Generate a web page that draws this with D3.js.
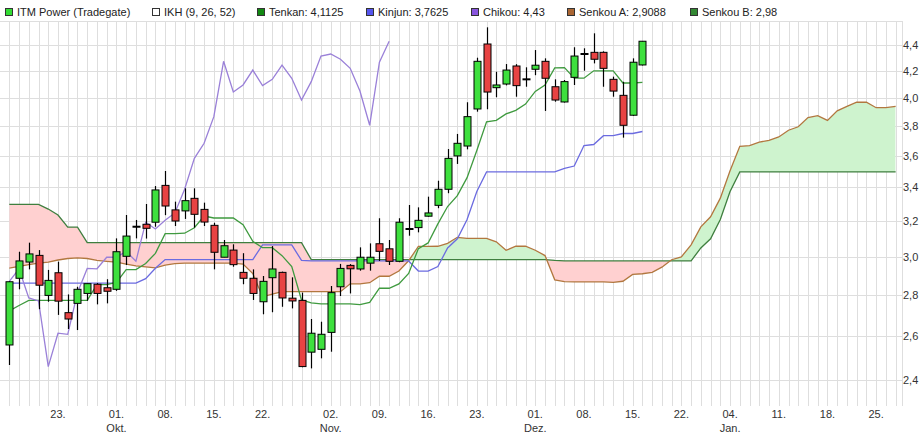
<!DOCTYPE html>
<html><head><meta charset="utf-8">
<script src="https://cdn.jsdelivr.net/npm/d3@7"></script>
<style>body{margin:0;background:#fff}svg{display:block}text{font-family:"Liberation Sans",Arial,sans-serif}</style>
</head><body><svg id="c" width="921" height="434"></svg>
<script>
// ---- data ----
const opens  = [2.557,2.885,2.971,3.007,2.797,2.914,2.711,2.757,2.807,2.854,2.836,2.828,3.002,3.167,3.181,3.193,3.413,3.265,3.259,3.334,3.268,3.175,2.997,3.036,2.916,2.885,2.765,2.888,2.916,2.783,2.772,2.524,2.537,2.616,2.841,2.953,2.934,2.965,3.071,3.043,2.975,3.154,3.162,3.228,3.292,3.389,3.600,3.665,3.919,4.408,4.073,4.100,4.236,4.135,4.211,4.272,4.080,3.969,4.150,4.329,4.342,4.342,4.135,4.017,3.875,4.244];
const highs  = [2.870,3.027,3.077,3.036,2.929,2.973,2.802,2.841,2.857,2.860,2.880,3.101,3.235,3.206,3.300,3.409,3.503,3.314,3.395,3.395,3.308,3.190,3.092,3.068,3.019,2.932,2.897,3.058,2.920,2.890,2.811,2.680,2.667,2.845,2.961,2.960,3.051,3.073,3.216,3.092,3.216,3.294,3.280,3.344,3.442,3.645,3.746,3.967,4.300,4.543,4.192,4.251,4.250,4.226,4.360,4.295,4.135,4.130,4.382,4.374,4.494,4.350,4.155,4.117,4.295,4.430];
const lows   = [2.466,2.828,2.932,2.728,2.765,2.700,2.632,2.627,2.770,2.752,2.757,2.820,2.955,3.101,3.100,3.167,3.234,3.171,3.212,3.162,3.171,2.932,2.997,2.946,2.854,2.774,2.703,2.713,2.740,2.732,2.456,2.451,2.496,2.526,2.794,2.807,2.925,2.925,2.977,2.955,2.970,3.116,3.135,3.225,3.275,3.365,3.548,3.643,3.900,3.917,4.003,4.090,4.007,4.080,4.166,3.905,3.971,3.965,4.093,4.200,4.256,4.080,4.007,3.721,3.870,4.240];
const closes = [2.867,2.977,3.015,2.849,2.874,2.768,2.680,2.828,2.857,2.807,2.818,3.027,3.114,3.167,3.158,3.385,3.288,3.200,3.320,3.239,3.194,3.024,3.060,2.957,2.885,2.807,2.869,2.934,2.784,2.769,2.459,2.612,2.607,2.811,2.937,2.935,2.997,2.997,3.029,2.975,3.193,3.154,3.204,3.247,3.389,3.584,3.683,3.865,4.272,4.041,4.093,4.205,4.088,4.135,4.242,4.143,3.983,4.118,4.313,4.329,4.288,4.218,4.048,3.805,4.265,4.430];

const tenkan = [2.72,2.7465,2.7715,2.7715,2.7715,2.7715,2.7715,2.7715,2.7715,2.852,2.852,2.864,2.931,2.931,2.9635,3.018,3.1275,3.1275,3.13,3.1615,3.229,3.2175,3.2175,3.2175,3.1785,3.0845,3.049,3.049,3.0055,2.9465,2.774,2.7595,2.7545,2.7545,2.7545,2.7545,2.751,2.762,2.8335,2.8335,2.856,2.91,3.044,3.0755,3.1835,3.285,3.3505,3.461,3.635,3.8295,3.839,3.884,3.909,3.954,4.0455,4.093,4.2215,4.224,4.1435,4.1435,4.1995,4.1995,4.1995,4.1075,4.1075,4.1125];
const kijun  = [2.86,2.86,2.86,2.86,2.86,2.86,2.86,2.86,2.86,2.86,2.86,2.86,2.86,2.86,2.883,2.9375,2.9845,2.9845,2.9845,2.9845,2.9845,2.9845,2.9845,2.9845,2.9845,2.9845,3.065,3.065,3.065,3.065,2.9795,2.977,2.977,2.977,2.977,2.977,2.977,2.977,2.977,2.977,2.977,2.977,2.923,2.923,2.9465,3.048,3.0985,3.209,3.3755,3.497,3.497,3.497,3.497,3.497,3.497,3.497,3.497,3.5195,3.5345,3.6685,3.675,3.734,3.734,3.749,3.749,3.7625];
const chikou = [2.869,2.934,2.784,2.769,2.459,2.612,2.607,2.811,2.937,2.935,2.997,2.997,3.029,2.975,3.193,3.154,3.204,3.247,3.389,3.584,3.683,3.865,4.272,4.041,4.093,4.205,4.088,4.135,4.242,4.143,3.983,4.118,4.313,4.329,4.288,4.218,4.048,3.805,4.265,4.430];
const senkouA = [2.939,2.948,2.957,2.965,2.971,2.982,2.990,2.993,2.990,2.980,2.975,2.971,2.960,2.950,2.945,2.940,2.955,2.962,2.965,2.965,2.965,2.965,2.965,2.965,2.960,2.910,2.79,2.803,2.816,2.816,2.816,2.816,2.816,2.816,2.816,2.856,2.856,2.862,2.8955,2.8955,2.923,2.978,3.056,3.056,3.057,3.073,3.107,3.101,3.101,3.101,3.0815,3.0345,3.057,3.057,3.035,3.006,2.877,2.868,2.866,2.866,2.866,2.866,2.864,2.8695,2.905,2.9088,2.9165,2.9435,2.9835,2.999,3.065,3.1665,3.2245,3.335,3.505,3.663,3.668,3.6905,3.703,3.7255,3.771,3.795,3.859,3.872,3.839,3.906,3.937,3.967,3.967,3.928,3.928,3.9375];
const senkouB = [3.298,3.298,3.298,3.298,3.27,3.235,3.165,3.165,3.077,3.077,3.077,3.077,3.077,3.077,3.077,3.077,3.077,3.077,3.077,3.077,3.077,3.077,3.077,3.077,3.077,3.077,3.077,3.077,3.077,3.077,3.077,2.9845,2.9845,2.9845,2.9845,2.9845,2.9845,2.9845,2.9845,2.9845,2.9845,2.9845,2.9845,2.9845,2.9845,2.9845,2.9845,2.9845,2.9845,2.9845,2.9845,2.9845,2.9845,2.9845,2.9845,2.9845,2.9795,2.977,2.977,2.977,2.977,2.977,2.977,2.977,2.977,2.977,2.977,2.977,2.977,2.977,2.977,3.048,3.0985,3.209,3.3755,3.497,3.497,3.497,3.497,3.497,3.497,3.497,3.497,3.497,3.497,3.497,3.497,3.497,3.497,3.497,3.497,3.497];

const yTickValues = [2.4,2.6,2.8,3.0,3.2,3.4,3.6,3.8,4.0,4.2,4.4];
const yTickLabels = ["2,4","2,6","2,8","3,0","3,2","3,4","3,6","3,8","4,0","4,2","4,4"];
const xTickIndex = [5,11,16,21,26,33,38,43,48,54,59,64,69,74,79,84,89];
const xTickDay   = ["23.","01.","08.","15.","22.","02.","09.","16.","23.","01.","08.","15.","22.","04.","11.","18.","25."];
const xTickMonth = ["","Okt.","","","","Nov.","","","","Dez.","","","","Jan.","","",""];
const legendLabels = ["ITM Power (Tradegate)","IKH (9, 26, 52)","Tenkan: 4,1125","Kinjun: 3,7625","Chikou: 4,43","Senkou A: 2,9088","Senkou B: 2,98"];

// ---- styling ----
const C = {up:"#3ee03e", down:"#e84343", tenkan:"#3f9a3f", kijun:"#6b6be0", chikou:"#9a80d8",
           sa:"#b2773f", sb:"#3f7f3f", pink:"#ffd0d0", green:"#cef3ce", grid:"#dedede"};
const legendColors = ["#33dd33","#ffffff","#118811","#5555ee","#8855dd","#aa6633","#338833"];
const legendX = [5,152,257,366,471,567,690];

const svg = d3.select("#c");
const W = 921, H = 434;
const plotL = 0, plotR = 902, plotT = 21, plotB = 406;
const nTotal = senkouA.length; // 92
const x = d3.scaleLinear().domain([0, nTotal-1]).range([9.3, 9.3 + (nTotal-1)*9.74]);
const y = d3.scaleLog().domain([2.4, 4.4]).range([380, 45]);
const px = v => Math.round(v) + 0.5;

// grid
const g = svg.append("g");
g.selectAll("line.v").data(d3.range(0, nTotal)).join("line")
  .attr("x1", i => px(x(i))).attr("x2", i => px(x(i)))
  .attr("y1", plotT).attr("y2", plotB).attr("stroke", C.grid).attr("stroke-width", 1);
g.selectAll("line.h").data(yTickValues).join("line")
  .attr("x1", plotL).attr("x2", plotR)
  .attr("y1", d => px(y(d))).attr("y2", d => px(y(d))).attr("stroke", C.grid);
g.append("line").attr("x1", plotL).attr("x2", plotR).attr("y1", plotT+0.5).attr("y2", plotT+0.5).attr("stroke", C.grid);
g.append("line").attr("x1", plotR+0.5).attr("x2", plotR+0.5).attr("y1", plotT).attr("y2", plotB).attr("stroke", C.grid);

// cloud
const idx = d3.range(nTotal);
const defs = svg.append("defs");
defs.append("clipPath").attr("id","abvA").append("path")
  .attr("d", d3.area().x(i => x(i)).y0(0).y1(i => y(senkouA[i]))(idx));
defs.append("clipPath").attr("id","belA").append("path")
  .attr("d", d3.area().x(i => x(i)).y0(H).y1(i => y(senkouA[i]))(idx));
const between = d3.area().x(i => x(i)).y0(i => y(senkouA[i])).y1(i => y(senkouB[i]));
svg.append("path").attr("d", between(idx)).attr("fill", C.pink).attr("clip-path","url(#abvA)");
svg.append("path").attr("d", between(idx)).attr("fill", C.green).attr("clip-path","url(#belA)");

const line = arr => d3.line().x((d,i) => x(i)).y(d => y(d))(arr);
svg.append("path").attr("d", line(senkouB)).attr("fill","none").attr("stroke", C.sb).attr("stroke-width",1.3);
svg.append("path").attr("d", line(senkouA)).attr("fill","none").attr("stroke", C.sa).attr("stroke-width",1.3);
svg.append("path").attr("d", line(kijun)).attr("fill","none").attr("stroke", C.kijun).attr("stroke-width",1.3);
svg.append("path").attr("d", line(tenkan)).attr("fill","none").attr("stroke", C.tenkan).attr("stroke-width",1.3);
svg.append("path").attr("d", line(chikou)).attr("fill","none").attr("stroke", C.chikou).attr("stroke-width",1.3);

// candles
const cg = svg.append("g");
closes.forEach((c, i) => {
  const o = opens[i], cx = Math.round(x(i));
  cg.append("line").attr("x1", cx+0.5).attr("x2", cx+0.5)
    .attr("y1", y(highs[i])).attr("y2", y(lows[i])).attr("stroke","#000").attr("stroke-width",1.2);
  const top = y(Math.max(o,c)), bot = y(Math.min(o,c));
  if (Math.abs(c - o) < 1e-9) {
    cg.append("line").attr("x1", cx-3.5).attr("x2", cx+4.5).attr("y1", top).attr("y2", top)
      .attr("stroke","#000").attr("stroke-width",2);
  } else {
    cg.append("rect").attr("x", cx-3).attr("width", 7)
      .attr("y", top).attr("height", Math.max(1, bot-top))
      .attr("fill", c > o ? C.up : C.down).attr("stroke","#000").attr("stroke-width",1);
  }
});

// y labels
svg.selectAll("text.yl").data(yTickValues).join("text")
  .attr("x", 903).attr("y", d => y(d) + 4).attr("font-size", 11).attr("fill","#333")
  .text((d,i) => yTickLabels[i]);

// x labels
xTickIndex.forEach((ti, k) => {
  svg.append("text").attr("x", x(ti)).attr("y", 418).attr("text-anchor","middle")
    .attr("font-size", 11).attr("fill","#333").text(xTickDay[k]);
  if (xTickMonth[k]) svg.append("text").attr("x", x(ti)).attr("y", 432).attr("text-anchor","middle")
    .attr("font-size", 11).attr("fill","#333").text(xTickMonth[k]);
});

// legend
legendLabels.forEach((t, k) => {
  svg.append("rect").attr("x", legendX[k]+0.5).attr("y", 8.5).attr("width", 7).attr("height", 7)
    .attr("fill", legendColors[k]).attr("stroke", "#333").attr("stroke-width", 1);
  svg.append("text").attr("x", legendX[k] + 12).attr("y", 16).attr("font-size", 11).attr("fill","#222").text(t);
});
</script></body></html>
